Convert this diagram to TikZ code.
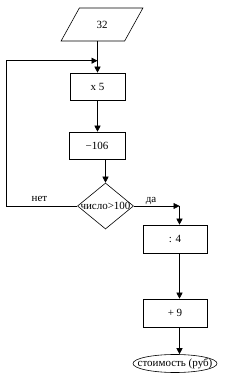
\documentclass[tikz,border=0pt]{standalone}
\usepackage{fontspec}
\setmainfont{Liberation Serif}
\usetikzlibrary{shapes.geometric,arrows.meta}
\begin{document}
\begin{tikzpicture}[x=1pt,y=1pt,
  every node/.style={font=\fontsize{11}{13}\selectfont, inner sep=0pt},
  box/.style={draw, rectangle, minimum width=56, minimum height=27},
  arr/.style={-{Triangle[length=6pt,width=6pt]}},
  line width=0.6pt]
\useasboundingbox (0,0) rectangle (236,383);
\node[draw, trapezium, trapezium left angle=59, trapezium right angle=121,
      trapezium stretches=true, minimum width=82, minimum height=33] (in) at (102,358.5) {32};
\node[box, minimum width=55] (x5) at (97.5,296.5) {x 5};
\node[box] (m106) at (97,237.5) {−106};
\node[draw, diamond, minimum width=56, minimum height=46] (d) at (105.5,177) {\makebox[0pt]{число>100}};
\node[box, minimum width=64, minimum height=28] (d4) at (175,144) {: 4};
\node[box, minimum width=64, minimum height=28] (p9) at (175,70) {+ 9};
\node[draw, ellipse, minimum width=84, minimum height=18] (out) at (175,19.5) {\makebox[0pt]{стоимость (руб)}};
\node (no) at (39.5,184.5) {нет};
\node (yes) at (151,182.5) {да};
\coordinate (join) at (97.5,322.3);
\coordinate (lc) at (6.5,322.3);
\coordinate (rc) at (179.5,177);
\draw[arr] (x5.north |- in.south) -- (x5.north);
\draw[arr] (d.west) -| (lc) -- (join);
\draw[arr] (x5.south) -- (x5.south |- m106.north);
\draw[arr] (m106.south -| d.north) -- (d.north);
\draw[arr] (d.east) -- (rc);
\draw[arr] (rc) -- (rc |- d4.north);
\draw[arr] (d4.south -| rc) -- (p9.north -| rc);
\draw[arr] (p9.south -| rc) -- (out.north -| rc);
\end{tikzpicture}
\end{document}
